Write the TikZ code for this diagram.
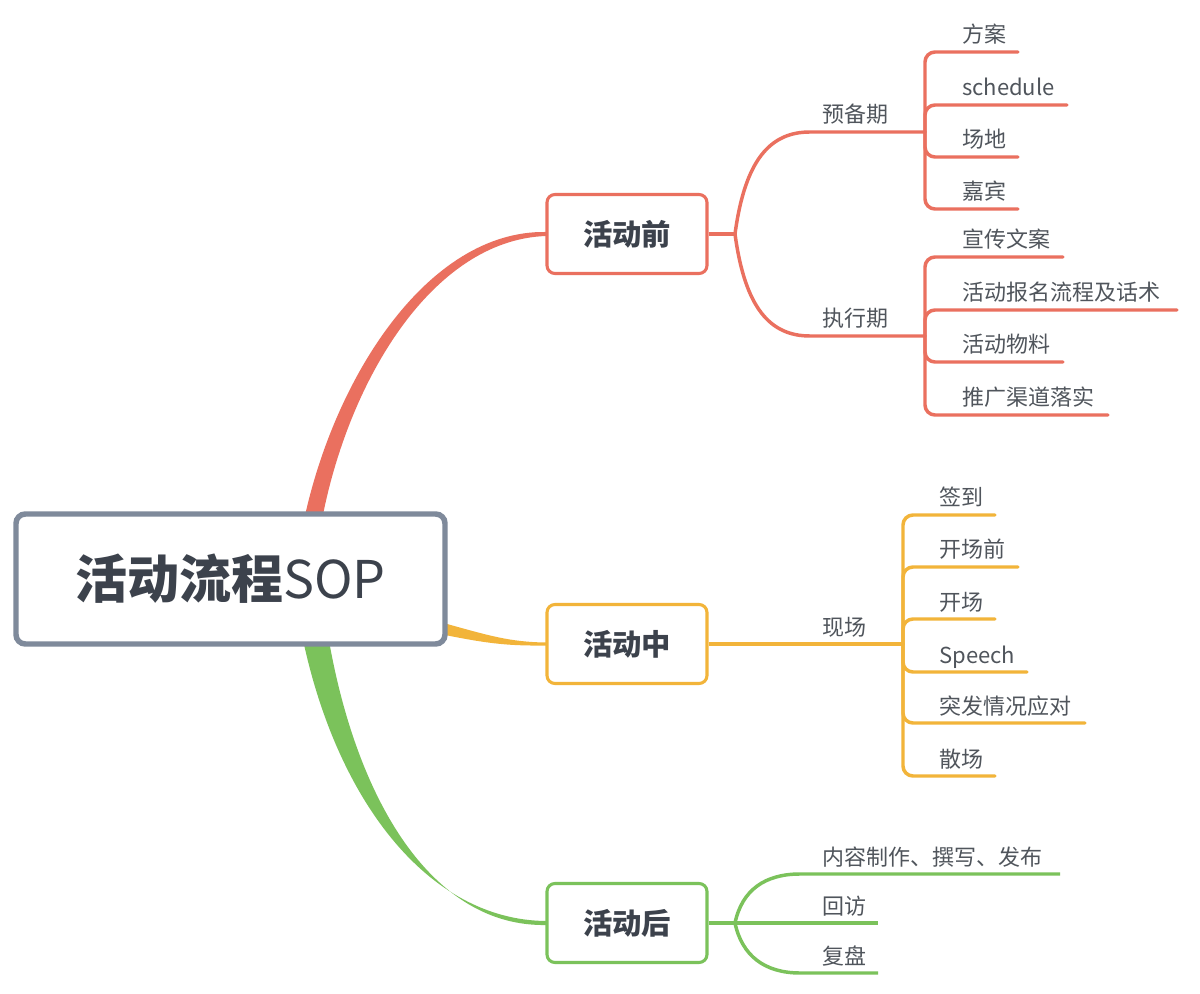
\documentclass[tikz,border=0pt]{standalone}
\usepackage{fontspec}
\setmainfont{Noto Sans CJK SC}
\begin{document}
\begin{tikzpicture}[x=0.75pt,y=-0.75pt,
  leaf/.style={anchor=base west,inner sep=0pt,text=cLeaf,font=\fontsize{16.5pt}{18pt}\selectfont},
  brl/.style={line width=2.6pt,rounded corners=7.5pt,line cap=round},
  midbox/.style={draw,line width=2.3pt,rounded corners=6pt,fill=white,minimum width=120pt,minimum height=59.25pt,inner sep=0pt,text=cBox,font=\fontsize{22pt}{24pt}\selectfont\bfseries},
]
\definecolor{cRed}{HTML}{EA705F}
\definecolor{cOrange}{HTML}{F2B43A}
\definecolor{cGreen}{HTML}{7BC25B}
\definecolor{cGray}{HTML}{7F8A9B}
\definecolor{cBox}{HTML}{3C424C}
\definecolor{cLeaf}{HTML}{50555C}
\useasboundingbox[fill=white] (0,0) rectangle (1200,994);

% main tapered branches
\fill[cRed] (303,525) .. controls (333,378) and (428,230) .. (546,232)
  -- (546,236) .. controls (432,240) and (347,382) .. (321,525) -- cycle;
\fill[cGreen] (302,635) .. controls (336,800) and (428,920) .. (546,921)
  -- (546,925) .. controls (432,927) and (356,800) .. (328,635) -- cycle;
\fill[cOrange] (440,622) .. controls (490,636) and (510,642) .. (546,642.5)
  -- (546,645.5) .. controls (505,646) and (485,643) .. (440,634) -- cycle;

% root
\node[draw=cGray,line width=4.1pt,rounded corners=7pt,fill=white,minimum width=321.75pt,minimum height=97.5pt,inner sep=0pt,text=cBox,font=\fontsize{39pt}{42pt}\selectfont] (root) at (230.5,579) {\textbf{活动流程}SOP};

% level-1 boxes
\node[midbox,draw=cRed] (pre) at (627,234) {活动前};
\node[midbox,draw=cOrange] (mid) at (627,644) {活动中};
\node[midbox,draw=cGreen] (post) at (627,923) {活动后};

% ---------- red ----------
\coordinate (jpre) at (735,234);
\coordinate (jyb) at (925,132);
\coordinate (jzx) at (925,336);
\draw[cRed,line width=2.6pt] (pre.east) -- (jpre);
\draw[cRed,line width=2.6pt] (jpre) .. controls (745,160) and (770,132) .. (810,132) -- (jyb);
\draw[cRed,line width=2.6pt] (jpre) .. controls (745,308) and (770,336) .. (810,336) -- (jzx);
\node[leaf] (yb) at (822,123) {预备期};
\node[leaf] (zx) at (822,327) {执行期};

\node[leaf] (a1) at (962,43) {方案};
\node[leaf] (a2) at (962,96) {schedule};
\node[leaf] (a3) at (962,148) {场地};
\node[leaf] (a4) at (962,200) {嘉宾};
\draw[cRed,brl] (jyb) |- (1018,52);
\draw[cRed,brl] (jyb) |- (1067,105);
\draw[cRed,brl] (jyb) |- (1018,157);
\draw[cRed,brl] (jyb) |- (1018,209);

\node[leaf] (b1) at (962,248) {宣传文案};
\node[leaf] (b2) at (962,301) {活动报名流程及话术};
\node[leaf] (b3) at (962,353) {活动物料};
\node[leaf] (b4) at (962,406) {推广渠道落实};
\draw[cRed,brl] (jzx) |- (1063,257);
\draw[cRed,brl] (jzx) |- (1177,310);
\draw[cRed,brl] (jzx) |- (1063,362);
\draw[cRed,brl] (jzx) |- (1108,415);

% ---------- orange ----------
\coordinate (jxc) at (903,644);
\draw[cOrange,line width=2.6pt] (mid.east) -- (jxc);
\node[leaf] (xc) at (822,635) {现场};
\node[leaf] (c1) at (939,506) {签到};
\node[leaf] (c2) at (939,558) {开场前};
\node[leaf] (c3) at (939,610) {开场};
\node[leaf] (c4) at (939,663) {Speech};
\node[leaf] (c5) at (939,714) {突发情况应对};
\node[leaf] (c6) at (939,767) {散场};
\draw[cOrange,brl] (jxc) |- (995,515);
\draw[cOrange,brl] (jxc) |- (1018,567);
\draw[cOrange,brl] (jxc) |- (995,619);
\draw[cOrange,brl] (jxc) |- (1027,672);
\draw[cOrange,brl] (jxc) |- (1085,723);
\draw[cOrange,brl] (jxc) |- (995,776);

% ---------- green ----------
\coordinate (jpost) at (735,923);
\draw[cGreen,line width=2.6pt] (post.east) -- (jpost);
\draw[cGreen,line width=2.6pt] (jpost) .. controls (742,890) and (765,874) .. (800,874) -- (1060,874);
\draw[cGreen,line width=2.6pt] (jpost) -- (878,923);
\draw[cGreen,line width=2.6pt] (jpost) .. controls (742,956) and (765,973) .. (800,973) -- (878,973);
\node[leaf] (d1) at (822,865) {内容制作、撰写、发布};
\node[leaf] (d2) at (822,914) {回访};
\node[leaf] (d3) at (822,964) {复盘};
\end{tikzpicture}
\end{document}
